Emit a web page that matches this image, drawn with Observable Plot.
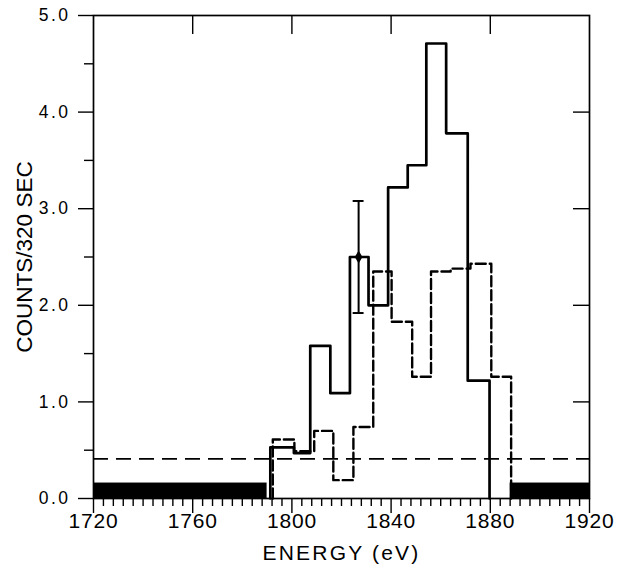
<!DOCTYPE html>
<html>
<head>
<meta charset="utf-8">
<script src="https://cdn.jsdelivr.net/npm/d3@7"></script>
<script src="https://cdn.jsdelivr.net/npm/@observablehq/plot@0.6"></script>
<style>
  html, body { margin: 0; padding: 0; background: #fff; }
  #chart svg { display: block; }
  #chart .ylab text { letter-spacing: 2.5px; }
  #chart .xlab text { letter-spacing: 0.8px; }
  #chart .xtitle text { letter-spacing: 2.2px; }
</style>
</head>
<body>
<div id="chart"></div>
<script>
// ---- data ----
const energyTicks = [1720, 1760, 1800, 1840, 1880, 1920];
const countTicks = [0, 1, 2, 3, 4, 5];
const xLabel = "ENERGY (eV)";
const yLabel = "COUNTS/320 SEC";

// solid histogram: bin edges (eV) and counts
const solidEdges = [1791.3, 1800.8, 1807.4, 1815.5, 1823.4, 1830.9, 1838.8, 1846.7, 1854.2, 1862.2, 1870.9, 1879.7];
const solidCounts = [0.53, 0.47, 1.58, 1.09, 2.50, 2.00, 3.22, 3.45, 4.71, 3.78, 1.22];

// dashed histogram: bin edges (eV) and counts
const dashedEdges = [1792.3, 1801.0, 1809.0, 1816.7, 1824.8, 1832.8, 1840.2, 1848.5, 1856.1, 1864.0, 1872.0, 1880.4, 1888.4];
const dashedCounts = [0.61, 0.49, 0.70, 0.19, 0.74, 2.35, 1.83, 1.26, 2.35, 2.38, 2.43, 1.26];

// error bar on one bin
const errEnergy = [1826.9];
const errValue = [2.50];
const errLow = [1.92];
const errHigh = [3.08];

// background level (dashed horizontal)
const backgroundLevel = [0.41];

// filled blocks at the base
const blockStart = [1720, 1888];
const blockEnd = [1790, 1920];
const blockHeight = [0.16, 0.16];

// ---- build mark data ----
function stepPoints(edges, counts) {
  const pts = [{x: edges[0], y: 0}];
  counts.forEach((c, i) => pts.push({x: edges[i], y: c}));
  pts.push({x: edges[edges.length - 1], y: 0});
  return pts;
}
const solidPts = stepPoints(solidEdges, solidCounts);
const dashedPts = stepPoints(dashedEdges, dashedCounts);
const blocks = blockStart.map((s, i) => ({x1: s, x2: blockEnd[i], y: blockHeight[i]}));
const errs = errEnergy.map((e, i) => ({x: e, y: errValue[i], lo: errLow[i], hi: errHigh[i]}));
const caps = errs.flatMap(d => [{x: d.x, y: d.lo}, {x: d.x, y: d.hi}]);
const minorX = d3.range(1724, 1920, 4).filter(d => (d - 1720) % 40 !== 0);
const minorY = d3.range(0.5, 5, 1);
const blank = () => "";
const fmtY = d3.format(".1f");

const chart = Plot.plot({
  width: 618,
  height: 571,
  marginLeft: 93,
  marginRight: 29,
  marginTop: 15,
  marginBottom: 73,
  x: {domain: [1720, 1920]},
  y: {domain: [0, 5]},
  style: {fontFamily: "'Liberation Sans', Arial, sans-serif", fontSize: "17px", color: "#000", background: "#fff"},
  marks: [
    Plot.rect(blocks, {x1: "x1", x2: "x2", y1: 0, y2: "y", fill: "#000"}),
    Plot.ruleY(backgroundLevel, {stroke: "#000", strokeWidth: 1.6, strokeDasharray: "15,8"}),
    Plot.line(dashedPts, {x: "x", y: "y", curve: "step-after", stroke: "#000", strokeWidth: 2.4, strokeDasharray: "10,4"}),
    Plot.line(solidPts, {x: "x", y: "y", curve: "step-after", stroke: "#000", strokeWidth: 2.7}),
    Plot.ruleX(errs, {x: "x", y1: "lo", y2: "hi", stroke: "#000", strokeWidth: 2}),
    Plot.ruleY(caps, {y: "y", x1: d => d.x - 2.2, x2: d => d.x + 2.2, stroke: "#000", strokeWidth: 2}),
    Plot.dot(errs, {x: "x", y: "y", symbol: "diamond", r: 4, fill: "#000"}),
    Plot.frame({stroke: "#000", strokeWidth: 1.7}),
    // left axis: outward ticks, minor ticks
    Plot.axisY(countTicks, {tickSize: 15, tickFormat: blank, label: null, strokeWidth: 1.4}),
    Plot.axisY(minorY, {tickSize: 9, tickFormat: blank, label: null, strokeWidth: 1.4}),
    // right inward ticks
    Plot.axisY(countTicks.slice(1, 5), {anchor: "right", tickSize: 17, dx: -17, tickFormat: blank, label: null, strokeWidth: 1.4}),
    // bottom axis ticks
    Plot.axisX(energyTicks, {tickSize: 15, tickFormat: blank, label: null, strokeWidth: 1.4}),
    Plot.axisX(minorX, {tickSize: 8, tickFormat: blank, label: null, strokeWidth: 1.4}),
    // top inward ticks
    Plot.axisX(energyTicks.slice(1, 5), {anchor: "top", tickSize: 18, dy: 18, tickFormat: blank, label: null, strokeWidth: 1.4}),
    // tick labels
    Plot.text(energyTicks, {x: d => d, text: d => String(d), frameAnchor: "bottom", dy: 29, fontSize: 21, fill: "#000", className: "xlab"}),
    Plot.text(countTicks, {y: d => d, text: d => fmtY(d), frameAnchor: "left", textAnchor: "end", dx: -23, fontSize: 17.5, fill: "#000", className: "ylab"}),
    // axis titles
    Plot.text([xLabel], {frameAnchor: "bottom", dy: 61, fontSize: 21, fill: "#000", className: "xtitle"}),
    Plot.text([yLabel], {frameAnchor: "left", textAnchor: "middle", dx: -69, rotate: -90, fontSize: 22.5, fill: "#000"})
  ]
});
document.getElementById("chart").append(chart);
</script>
</body>
</html>
